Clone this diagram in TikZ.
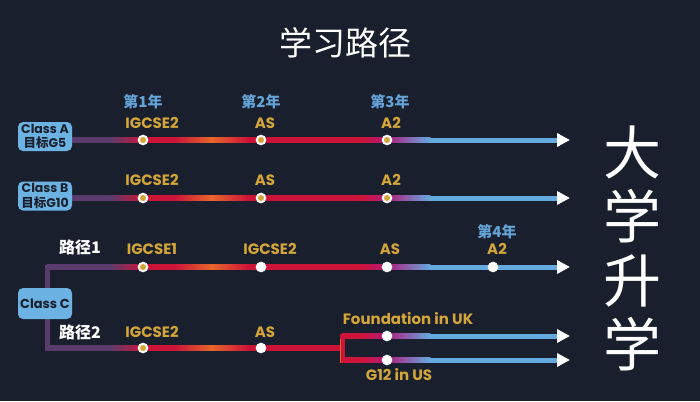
\documentclass[tikz,border=0pt]{standalone}
\usepackage{fontspec}
\setmainfont{Poppins}
\newfontfamily\cjk{Noto Sans CJK SC}
\usetikzlibrary{arrows.meta}
\definecolor{bgc}{HTML}{1A1F2D}
\definecolor{purp}{HTML}{5A3C6C}
\definecolor{redc}{HTML}{CC1438}
\definecolor{oran}{HTML}{E8662C}
\definecolor{mage}{HTML}{B01C7C}
\definecolor{lblue}{HTML}{64AADE}
\definecolor{gold}{HTML}{D4A63A}
\definecolor{ylab}{HTML}{64A4D8}
\definecolor{boxc}{HTML}{6CB2E2}
\pgfdeclarelayer{lines}
\pgfsetlayers{lines,main}
\newcommand\gseg[5]{\shade[left color=#4,right color=#5] (#1-0.3,#3-2.5) rectangle (#2+0.3,#3+2.5);}
\newcommand\leadrow[2]{%
  \gseg{#1}{110}{#2}{purp}{purp}
  \gseg{110}{143}{#2}{purp}{redc}
  \gseg{143}{175}{#2}{redc}{redc}
  \gseg{175}{212}{#2}{redc}{oran}
  \gseg{212}{248}{#2}{oran}{redc}}
\newcommand\tailrow[2]{%
  \gseg{#1}{362}{#2}{redc}{redc}
  \gseg{362}{387}{#2}{redc}{mage}
  \gseg{387}{430}{#2}{mage}{lblue}}
\begin{document}
\begin{tikzpicture}[x=1pt,y=-1pt,
  gdot/.style={circle,draw=white,line width=2pt,fill=gold,minimum size=8.5pt,inner sep=0pt},
  wdot/.style={circle,draw=white,line width=2pt,fill=white,minimum size=8.5pt,inner sep=0pt},
  glab/.style={text=gold,font=\fontsize{15}{15}\selectfont\bfseries,inner sep=0pt},
  ylabs/.style={text=ylab,font=\cjk\fontsize{15}{15}\selectfont\bfseries,inner sep=0pt},
  rlab/.style={text=white,font=\cjk\fontsize{16}{16}\selectfont\bfseries,inner sep=0pt},
  cbox/.style={fill=boxc,rounded corners=5pt,minimum width=54pt,inner sep=0pt,align=center,text=bgc,font=\fontsize{12.5}{14.5}\selectfont\bfseries},
  arr/.style={line width=5pt,lblue,-{Triangle[color=white,length=13pt,width=13pt]}}]
\begin{pgfonlayer}{lines}
\fill[bgc] (0,0) rectangle (700,401);
\end{pgfonlayer}
\useasboundingbox (0,0) rectangle (700,401);

% title and right text
\node[text=white,font=\cjk\fontsize{33}{33}\selectfont] (title) at (345,43) {学习路径};
\node[text=white,font=\cjk\fontsize{58}{64}\selectfont,align=center,inner sep=0pt] (uni) at (632,248) {大\\学\\升\\学};

% class boxes
\node[cbox,minimum height=29pt] (ca) at (45,136.5) {Class A\\{\cjk 目标}G5};
\node[cbox,minimum height=29pt] (cb) at (45,196) {Class B\\{\cjk 目标}G10};
\node[cbox,minimum height=31pt,font=\fontsize{13}{14}\selectfont\bfseries] (cc) at (45,303.5) {Class C};

% dots
\node[gdot] (a1) at (143,140) {};
\node[gdot] (a2) at (261,140) {};
\node[gdot] (a3) at (387,140) {};
\node[gdot] (b1) at (143,198) {};
\node[gdot] (b2) at (261,198) {};
\node[gdot] (b3) at (387,198) {};
\node[gdot] (c1) at (143,267) {};
\node[wdot] (c2) at (261,267) {};
\node[wdot] (c3) at (387,267) {};
\node[wdot] (c4) at (493,267) {};
\node[gdot] (d1) at (143,348) {};
\node[wdot] (d2) at (261,348) {};
\node[wdot] (e1) at (387,336) {};
\node[wdot] (f1) at (387,360) {};

% arrow ends
\coordinate (ta) at (570,140);
\coordinate (tb) at (570,198);
\coordinate (tc) at (570,267);
\coordinate (te) at (570,336);
\coordinate (tf) at (570,360);

% year labels
\node[ylabs] (y1) at (143,102) {第1年};
\node[ylabs] (y2) at (261,102) {第2年};
\node[ylabs] (y3) at (390,102) {第3年};
\node[ylabs] (y4) at (497,232) {第4年};

% gold labels
\node[glab] (la1) at (152,123) {IGCSE2};
\node[glab] (la2) at (265,123) {AS};
\node[glab] (la3) at (391,123) {A2};
\node[glab] (lb1) at (152,180) {IGCSE2};
\node[glab] (lb2) at (265,180) {AS};
\node[glab] (lb3) at (391,180) {A2};
\node[glab] (lc1) at (152,249) {IGCSE1};
\node[glab] (lc2) at (270,249) {IGCSE2};
\node[glab] (lc3) at (390,249) {AS};
\node[glab] (lc4) at (497,249) {A2};
\node[glab] (ld1) at (152,332) {IGCSE2};
\node[glab] (ld2) at (265,332) {AS};
\node[glab] (le1) at (408,319) {Foundation in UK};
\node[glab] (lf1) at (399,375) {G12 in US};

% route labels
\node[rlab] (r1) at (80,247) {路径1};
\node[rlab] (r2) at (80,332) {路径2};

\begin{pgfonlayer}{lines}
% arrows (blue tails)
\draw[arr] (a3) -- (ta);
\draw[arr] (b3) -- (tb);
\draw[arr] (c3) -- (tc);
\draw[arr] (e1) -- (te);
\draw[arr] (f1) -- (tf);
% class C bracket
\draw[purp,line width=5pt] (112,267) -- (47,267) -- (47,348) -- (112,348);
% rows
\leadrow{72}{140}\tailrow{248}{140}
\leadrow{72}{198}\tailrow{248}{198}
\leadrow{47}{267}\tailrow{248}{267}
\leadrow{47}{348}\gseg{248}{344.5}{348}{redc}{redc}
% fork
\fill[redc] (339.5,333.5) rectangle (344.5,362.5);
\fill[oran] (339.5,338.5) rectangle (341,362.5);
\tailrow{342}{336}
\tailrow{342}{360}
\end{pgfonlayer}
\end{tikzpicture}
\end{document}
